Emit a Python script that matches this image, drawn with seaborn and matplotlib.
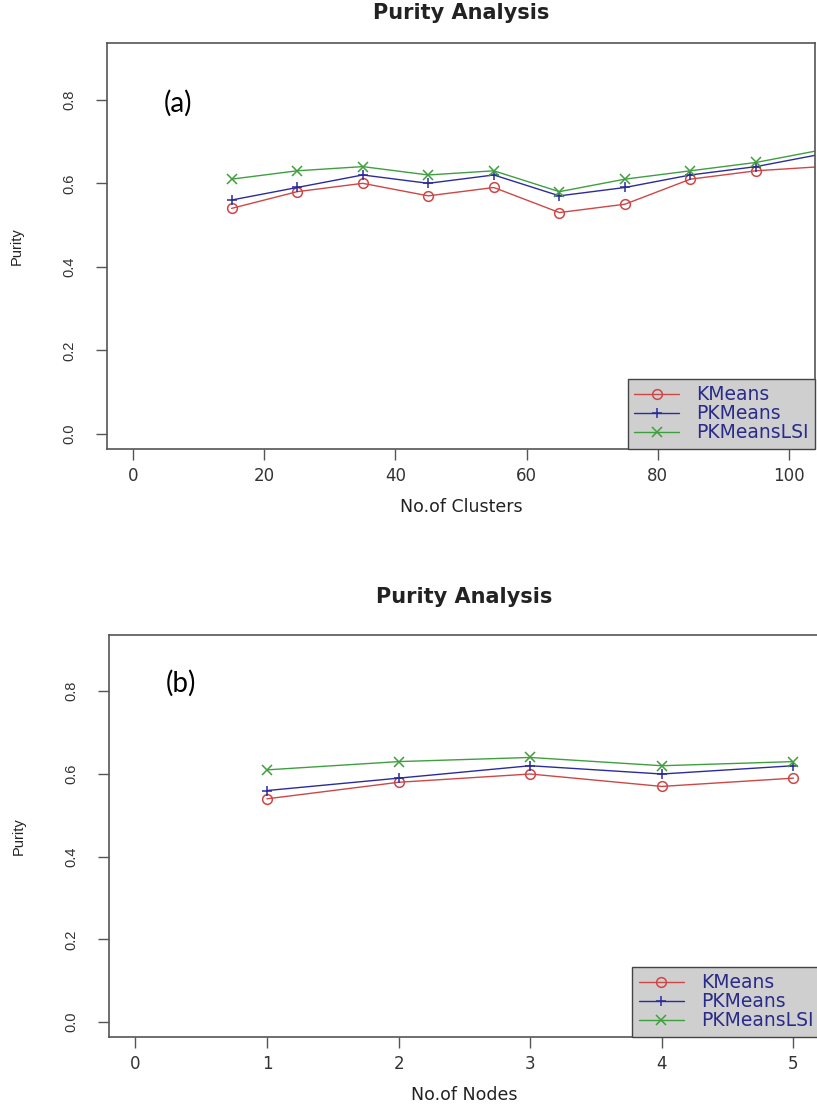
import pandas as pd
import seaborn as sns
import matplotlib.pyplot as plt

# data
clusters = [15, 25, 35, 45, 55, 65, 75, 85, 95, 105]
kmeans_c = [0.54, 0.58, 0.60, 0.57, 0.59, 0.53, 0.55, 0.61, 0.63, 0.64]
pkmeans_c = [0.56, 0.59, 0.62, 0.60, 0.62, 0.57, 0.59, 0.62, 0.64, 0.67]
pklsi_c = [0.61, 0.63, 0.64, 0.62, 0.63, 0.58, 0.61, 0.63, 0.65, 0.68]

nodes = [1, 2, 3, 4, 5]
kmeans_n = [0.54, 0.58, 0.60, 0.57, 0.59]
pkmeans_n = [0.56, 0.59, 0.62, 0.60, 0.62]
pklsi_n = [0.61, 0.63, 0.64, 0.62, 0.63]

series = ['KMeans', 'PKMeans', 'PKMeansLSI']
colors = {'KMeans': '#cf4646', 'PKMeans': '#2b2b9c', 'PKMeansLSI': '#3f9f3f'}
markers = {'KMeans': 'o', 'PKMeans': '+', 'PKMeansLSI': 'x'}

sns.set_style('ticks')
plt.rcParams['font.family'] = ['DejaVu Sans']

fig = plt.figure(figsize=(8.17, 11.05), dpi=100)
ax1 = fig.add_axes([0.131, 0.5937, 0.8666, 0.3674])
ax2 = fig.add_axes([0.1334, 0.0615, 0.870, 0.3638])


def draw(ax, x, ys, xlim, xticks, xlabel, tag, tag_y, title_pad):
    df = pd.DataFrame({'x': x * 3,
                       'purity': ys[0] + ys[1] + ys[2],
                       'method': sum([[s] * len(x) for s in series], [])})
    for s in series:
        sub = df[df['method'] == s]
        sns.lineplot(data=sub, x='x', y='purity', ax=ax, color=colors[s],
                     marker=markers[s], markersize=7, linewidth=1,
                     markerfacecolor='none', markeredgecolor=colors[s],
                     markeredgewidth=1.1, label=s)
    ax.set_xlim(*xlim)
    ax.set_ylim(-0.036, 0.936)
    ax.set_xticks(xticks)
    ax.set_xticklabels([str(v) for v in xticks], fontsize=12)
    ax.set_yticks([0.0, 0.2, 0.4, 0.6, 0.8])
    ax.set_yticklabels(['0.0', '0.2', '0.4', '0.6', '0.8'], rotation=90, va='center',
                       fontsize=10.5, family='Liberation Sans')
    ax.tick_params(axis='both', direction='out', length=8, width=1, color='#555555',
                   labelcolor='#333333')
    ax.tick_params(axis='y', pad=14)
    ax.tick_params(axis='x', pad=5)
    for sp in ax.spines.values():
        sp.set_color('#555555')
        sp.set_linewidth(1.2)
    ax.set_xlabel(xlabel, fontsize=12.5, color='#222222', labelpad=9)
    ax.set_ylabel('Purity', fontsize=10.5, color='#222222', labelpad=28,
                  family='Liberation Sans')
    ax.set_title('Purity Analysis', fontsize=15, fontweight='bold', color='#222222',
                 pad=title_pad)
    ax.text(0.08, tag_y, tag, transform=ax.transAxes, fontsize=20,
            family=['Lato', 'DejaVu Sans'], color='black', ha='left', va='center')
    leg = ax.legend(loc='lower right', bbox_to_anchor=(1.0, 0.0), borderaxespad=0,
                    frameon=True, fancybox=False, fontsize=13.5, labelspacing=0.0,
                    handlelength=2.4, handletextpad=0.9, borderpad=0.35)
    frame = leg.get_frame()
    frame.set_facecolor('#cfcfcf')
    frame.set_edgecolor('#444444')
    frame.set_alpha(1)
    for t in leg.get_texts():
        t.set_color('#2a2a8a')
    sns.despine(ax=ax, top=False, right=False)


draw(ax1, clusters, [kmeans_c, pkmeans_c, pklsi_c], (-4, 104),
     [0, 20, 40, 60, 80, 100], 'No.of Clusters', '(a)', 0.852, 17)
draw(ax2, nodes, [kmeans_n, pkmeans_n, pklsi_n], (-0.2, 5.2),
     [0, 1, 2, 3, 4, 5], 'No.of Nodes', '(b)', 0.88, 23)

plt.savefig('out.png', dpi=100)
